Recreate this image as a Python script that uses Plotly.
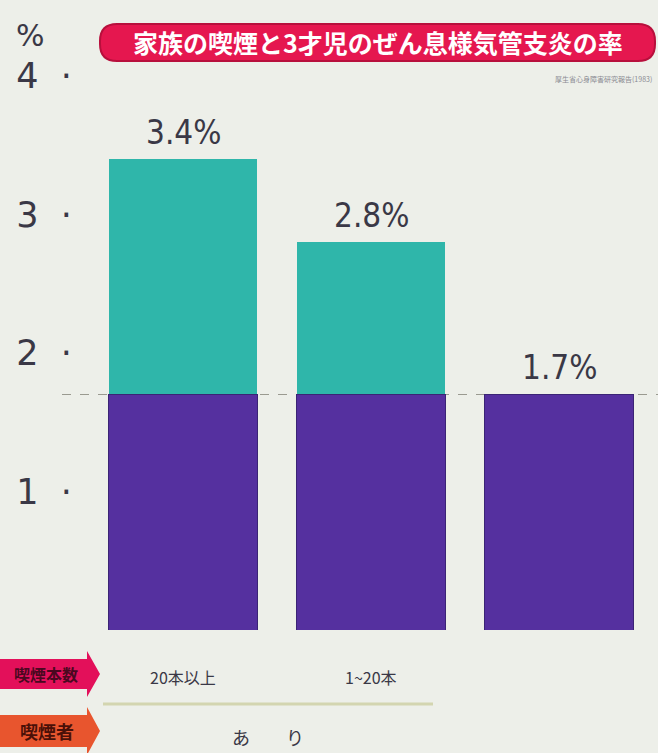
import plotly.graph_objects as go

# ---- data ----
categories = ["20本以上", "1~20本", "なし"]
rates = [3.4, 2.8, 1.7]          # % of 3-year-olds with asthmatic bronchitis
reference_rate = 1.7             # non-smoking household rate (dashed line)
rate_labels = ["3.4%", "2.8%", "1.7%"]
ytick_vals = [1, 2, 3, 4]
ytick_text = ["1\u00a0\u00a0·", "2\u00a0\u00a0·", "3\u00a0\u00a0·", "4\u00a0\u00a0·"]
title_text = "家族の喫煙と3才児のぜん息様気管支炎の率"
row1_labels = ["20本以上", "1~20本"]
row2_label = "あ　　り"
arrow_labels = ["喫煙本数", "喫煙者"]
source_note = "厚生省心身障害研究報告(1983)"

base_part = [min(r, reference_rate) for r in rates]
excess_part = [max(r - reference_rate, 0) for r in rates]

W, H = 658, 753
L, R, T, B = 89, 5, 62, 123
pw, ph = W - L - R, H - T - B


def px(x):
    return (x - L) / pw


def py(y):
    return (H - B - y) / ph


BG = "#edefe9"
TEXT = "#3a3846"

fig = go.Figure()
fig.add_trace(go.Bar(x=categories, y=base_part,
                     marker=dict(color="#55309f", line=dict(color="#3b2475", width=1)),
                     hoverinfo="skip", showlegend=False))
fig.add_trace(go.Bar(x=categories, y=excess_part,
                     marker=dict(color="#2fb6aa", line=dict(width=0)),
                     hoverinfo="skip", showlegend=False))

annotations = []
for c, r, t in zip(categories, rates, rate_labels):
    annotations.append(dict(x=c, y=r, xref="x", yref="y", text=t, showarrow=False,
                            xanchor="center", yanchor="bottom", yshift=5,
                            font=dict(size=33, color=TEXT, family="DejaVu Sans Condensed")))

# % unit
annotations.append(dict(x=px(30), y=py(36), xref="paper", yref="paper", text="%", showarrow=False,
                        xanchor="center", yanchor="middle",
                        font=dict(size=30, color=TEXT, family="DejaVu Sans")))

# title pill text
annotations.append(dict(x=px(378), y=py(42), xref="paper", yref="paper", text="<b>" + title_text + "</b>",
                        showarrow=False, xanchor="center", yanchor="middle",
                        font=dict(size=25, color="white", family="Noto Sans CJK JP")))
# small source note
annotations.append(dict(x=px(654), y=py(79), xref="paper", yref="paper", text=source_note,
                        showarrow=False, xanchor="right", yanchor="middle",
                        font=dict(size=7, color="#8a8a92", family="Noto Sans CJK JP")))

# bottom row labels
for c, t in zip(categories[:2], row1_labels):
    annotations.append(dict(x=c, y=py(677), xref="x", yref="paper", text=t, showarrow=False,
                            xanchor="center", yanchor="middle",
                            font=dict(size=16, color=TEXT, family="Noto Sans CJK JP")))
annotations.append(dict(x=px(268), y=py(737), xref="paper", yref="paper", text=row2_label, showarrow=False,
                        xanchor="center", yanchor="middle",
                        font=dict(size=18, color=TEXT, family="Noto Sans CJK JP")))
# arrow labels
annotations.append(dict(x=px(80), y=py(674), xref="paper", yref="paper", text="<b>" + arrow_labels[0] + "</b>",
                        showarrow=False, xanchor="right", yanchor="middle",
                        font=dict(size=16, color="#4a0820", family="Noto Sans CJK JP")))
annotations.append(dict(x=px(76), y=py(731), xref="paper", yref="paper", text="<b>" + arrow_labels[1] + "</b>",
                        showarrow=False, xanchor="right", yanchor="middle",
                        font=dict(size=18, color="#4a1008", family="Noto Sans CJK JP")))


def rounded_rect(x0, y0, x1, y1, r):
    pts = [
        f"M {px(x0 + r)} {py(y0)}",
        f"L {px(x1 - r)} {py(y0)}",
        f"Q {px(x1)} {py(y0)} {px(x1)} {py(y0 + r)}",
        f"L {px(x1)} {py(y1 - r)}",
        f"Q {px(x1)} {py(y1)} {px(x1 - r)} {py(y1)}",
        f"L {px(x0 + r)} {py(y1)}",
        f"Q {px(x0)} {py(y1)} {px(x0)} {py(y1 - r)}",
        f"L {px(x0)} {py(y0 + r)}",
        f"Q {px(x0)} {py(y0)} {px(x0 + r)} {py(y0)}",
        "Z",
    ]
    return " ".join(pts)


def arrow_path(x0, xtip, yc, hb, hh, headlen):
    return (f"M {px(x0)} {py(yc - hb)} L {px(xtip - headlen)} {py(yc - hb)} L {px(xtip - headlen)} {py(yc - hh)} "
            f"L {px(xtip)} {py(yc)} L {px(xtip - headlen)} {py(yc + hh)} L {px(xtip - headlen)} {py(yc + hb)} "
            f"L {px(x0)} {py(yc + hb)} Z")


shapes = [
    dict(type="path", xref="paper", yref="paper", path=rounded_rect(100, 24, 655, 61, 17),
         fillcolor="#e5174f", line=dict(color="#b80f3c", width=2), layer="below"),
    dict(type="line", xref="paper", yref="y", x0=px(62), x1=px(662), y0=reference_rate, y1=reference_rate,
         line=dict(color="#9a9a90", width=1.2, dash="dash"), layer="below"),
    dict(type="line", xref="paper", yref="paper", x0=px(103), x1=px(433), y0=py(704), y1=py(704),
         line=dict(color="#d3d5b0", width=3)),
    dict(type="path", xref="paper", yref="paper", path=arrow_path(-5, 100, 674, 15, 23, 13),
         fillcolor="#e3105a", line=dict(width=0)),
    dict(type="path", xref="paper", yref="paper", path=arrow_path(-5, 100, 731, 16, 24, 13),
         fillcolor="#e8552e", line=dict(width=0)),
]

fig.update_layout(
    width=W, height=H,
    margin=dict(l=L, r=R, t=T, b=B),
    paper_bgcolor=BG, plot_bgcolor=BG,
    barmode="stack", bargap=0.21,
    showlegend=False,
    xaxis=dict(showticklabels=False, showgrid=False, zeroline=False, showline=False, ticks=""),
    yaxis=dict(range=[0, 4.1], tickvals=ytick_vals, ticktext=ytick_text, showgrid=False, zeroline=False,
               showline=False, ticks="", ticklabelstandoff=16,
               tickfont=dict(size=35, color=TEXT, family="DejaVu Sans")),
    annotations=annotations,
    shapes=shapes,
)

fig.write_html("out.html", config={"displayModeBar": False},
               post_script="document.body.style.margin='0';document.body.style.background='" + BG + "';")
